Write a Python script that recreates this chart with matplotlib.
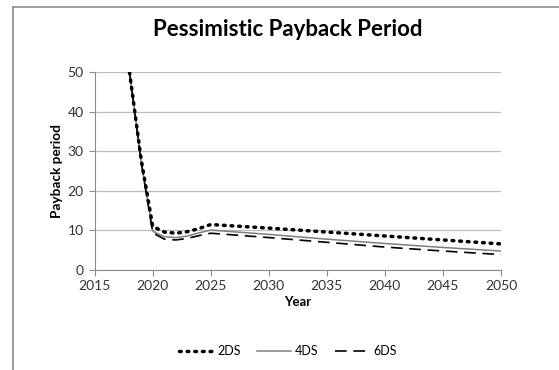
import matplotlib
matplotlib.use('Agg')
import matplotlib.pyplot as plt
from matplotlib.lines import Line2D

# payback period by scenario (years)
years = [2018, 2019, 2020, 2021, 2022, 2023, 2024, 2025, 2030, 2035, 2040, 2045, 2050]
pp_2ds = [50.0, 28.0, 11.0, 9.6, 9.3, 9.7, 10.5, 11.5, 10.6, 9.6, 8.6, 7.6, 6.6]
pp_4ds = [50.0, 27.5, 9.8, 8.4, 8.2, 8.6, 9.4, 10.1, 9.0, 7.8, 6.7, 5.7, 4.8]
pp_6ds = [50.0, 27.3, 9.4, 7.8, 7.6, 8.0, 8.7, 9.3, 8.2, 7.0, 5.8, 4.8, 3.9]

xticks = list(range(2015, 2051, 5))
yticks = list(range(0, 51, 10))

plt.rcParams['font.family'] = ['Lato', 'DejaVu Sans']

fig = plt.figure(figsize=(5.59, 3.70), dpi=100)
ax = fig.add_axes([94.7/559, 1-270/370, (501-94.7)/559, (270-72.3)/370])

ax.plot(years, pp_2ds, color='black', lw=2.5, linestyle=(0, (0.5, 1.7)), dash_capstyle='round', label='2DS', zorder=3)
ax.plot(years, pp_4ds, color='#7f7f7f', lw=1.1, label='4DS', zorder=2)
ax.plot(years, pp_6ds, color='black', lw=1.2, linestyle=(0, (7, 4)), label='6DS', zorder=2)

ax.set_xlim(2015, 2050)
ax.set_ylim(0, 50)
ax.set_xticks(xticks)
ax.set_yticks(yticks)
ax.grid(axis='y', color='#bdbdbd', lw=0.9)
ax.set_axisbelow(True)
for s in ['top', 'right']:
    ax.spines[s].set_visible(False)
for s in ['left', 'bottom']:
    ax.spines[s].set_color('#8c8c8c')
ax.tick_params(axis='both', colors='#8c8c8c', labelcolor='#333333', labelsize=10, length=4, direction='out')
ax.tick_params(axis='x', pad=3)
ax.tick_params(axis='y', pad=4)

ax.set_xlabel('Year', fontsize=9.5, fontweight='bold', labelpad=3)
ax.set_ylabel('Payback period', fontsize=9.8, fontweight='bold')
ax.yaxis.set_label_coords(-0.078, 0.5)

fig.text(0.515, 1-30/370, 'Pessimistic Payback Period', ha='center', va='center', fontsize=16, fontweight='bold')

fig.legend(loc='center', bbox_to_anchor=(0.515, 1-351/370), ncol=3, frameon=False, fontsize=9,
           handlelength=2.7, columnspacing=1.3, handletextpad=0.35)

# outer frame (left and top edges)
fig.add_artist(Line2D([12.5/559, 12.5/559], [0, 1-6.5/370], transform=fig.transFigure, color='#8c8c8c', lw=1.2))
fig.add_artist(Line2D([12.5/559, 1], [1-6.5/370, 1-6.5/370], transform=fig.transFigure, color='#8c8c8c', lw=1.2))

fig.savefig('out.png', dpi=100)
